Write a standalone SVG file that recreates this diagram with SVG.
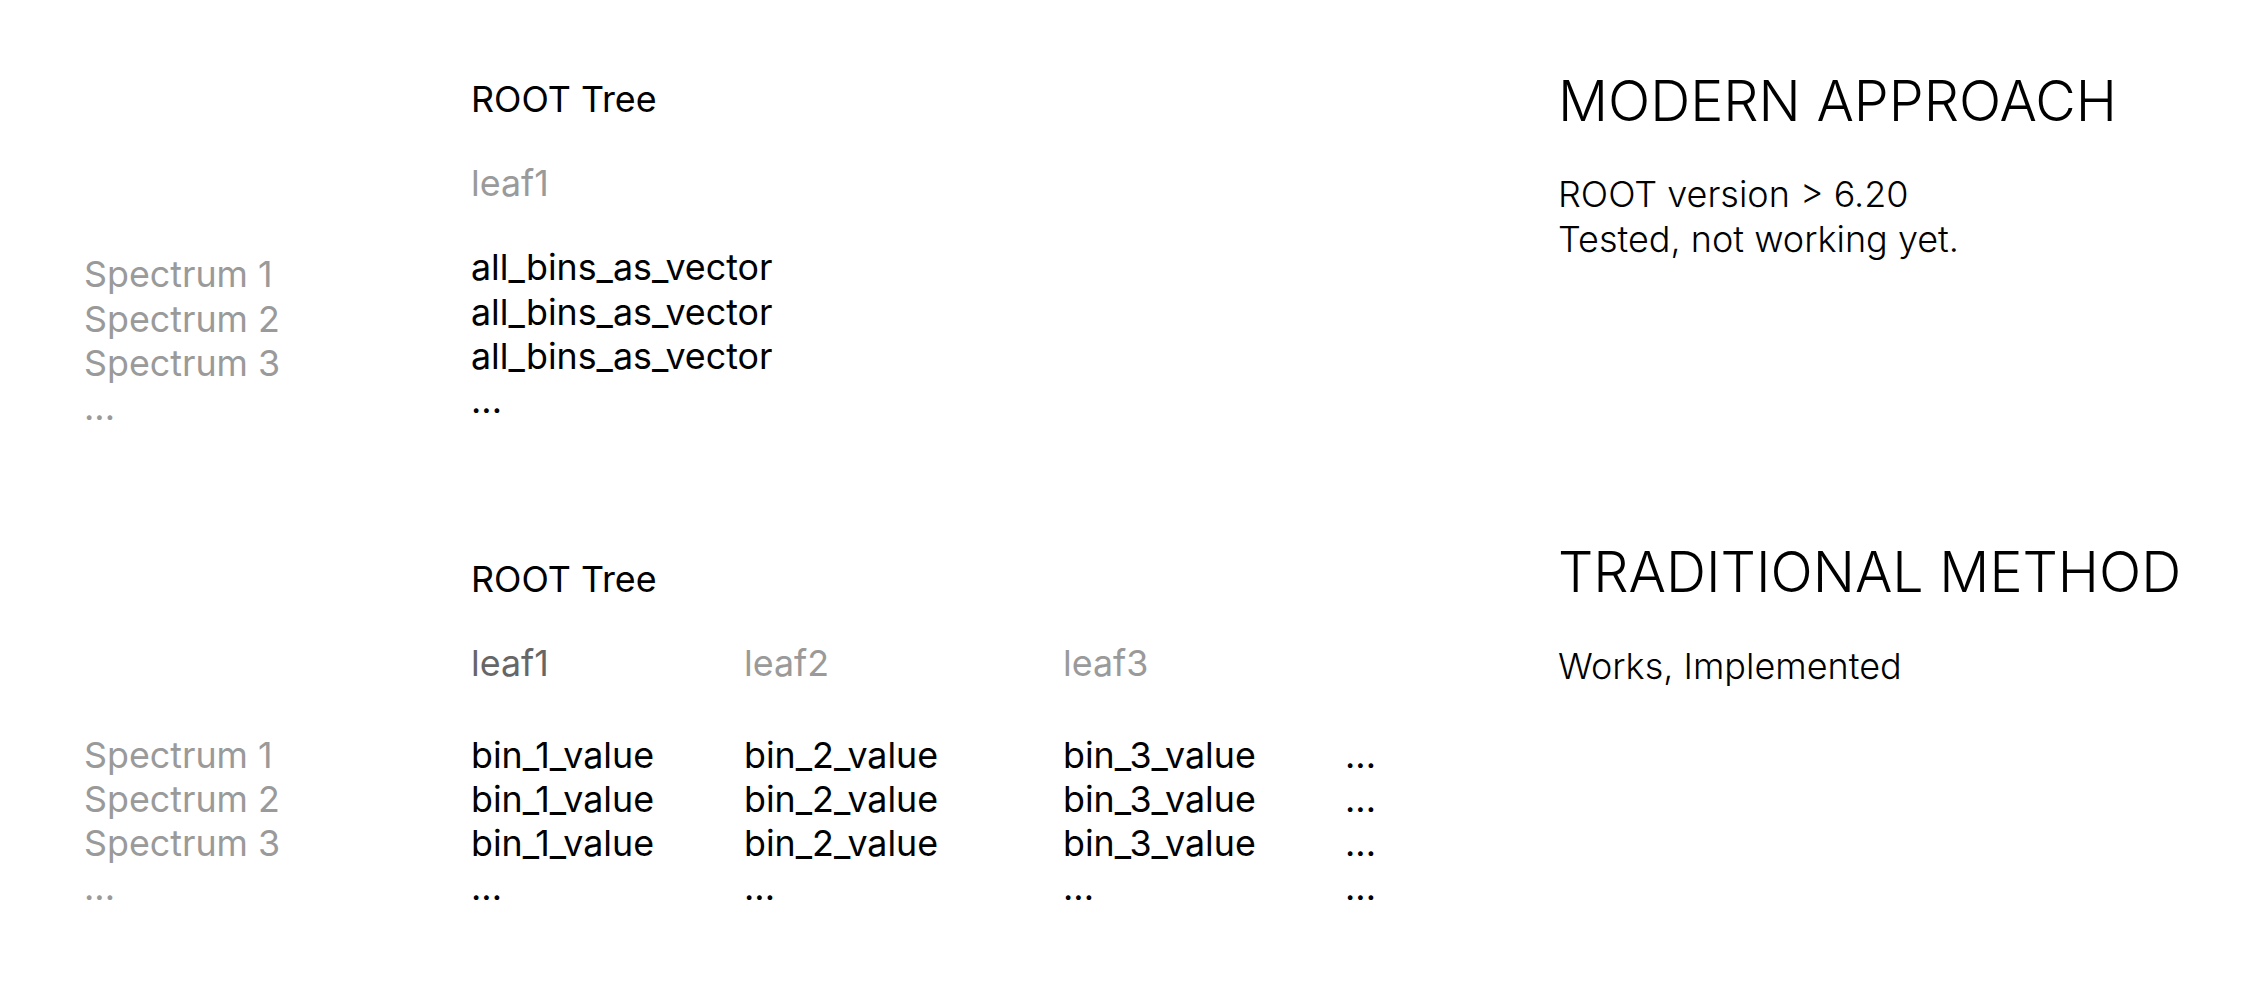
<svg xmlns="http://www.w3.org/2000/svg" width="2260" height="984" viewBox="0 0 2260 984">
  <style>
    text { font-family: Inter, "Noto Sans", "Liberation Sans", sans-serif; }
    .cell { font-size: 35.8px; fill: #000000; }
    .muted { font-size: 35.8px; fill: #9a9a9a; }
    .leaf-active { font-size: 35.8px; fill: #666666; }
    .heading { font-size: 55.6px; font-weight: 300; fill: #000000; }
    .note { font-size: 36px; font-weight: 300; fill: #000000; }
  </style>
  <rect x="0" y="0" width="2260" height="984" fill="#ffffff"/>

  <!-- Modern approach: one leaf holding the full bin vector -->
  <g id="modern-tree">
    <text class="cell" x="471" y="112">ROOT Tree</text>
    <text class="muted" x="471" y="196">leaf1</text>
  </g>
  <g id="modern-rows">
    <text class="muted" x="84" y="287">Spectrum 1</text>
    <text class="muted" x="84" y="331.5">Spectrum 2</text>
    <text class="muted" x="84" y="376">Spectrum 3</text>
    <text class="muted" x="84" y="420">...</text>
  </g>
  <g id="modern-values">
    <text class="cell" x="471" y="280">all_bins_as_vector</text>
    <text class="cell" x="471" y="324.5">all_bins_as_vector</text>
    <text class="cell" x="471" y="369">all_bins_as_vector</text>
    <text class="cell" x="471" y="413">...</text>
  </g>
  <g id="modern-note">
    <text class="heading" x="1558" y="121">MODERN APPROACH</text>
    <text class="note" x="1558" y="207">ROOT version &gt; 6.20</text>
    <text class="note" x="1558" y="252">Tested, not working yet.</text>
  </g>

  <!-- Traditional method: one leaf per bin -->
  <g id="traditional-tree">
    <text class="cell" x="471" y="592">ROOT Tree</text>
    <text class="leaf-active" x="471" y="676">leaf1</text>
    <text class="muted" x="744" y="676">leaf2</text>
    <text class="muted" x="1063" y="676">leaf3</text>
  </g>
  <g id="traditional-rows">
    <text class="muted" x="84" y="767.5">Spectrum 1</text>
    <text class="muted" x="84" y="811.5">Spectrum 2</text>
    <text class="muted" x="84" y="856">Spectrum 3</text>
    <text class="muted" x="84" y="900">...</text>
  </g>
  <g id="traditional-values">
    <text class="cell" x="471" y="767.5">bin_1_value</text>
    <text class="cell" x="471" y="811.5">bin_1_value</text>
    <text class="cell" x="471" y="856">bin_1_value</text>
    <text class="cell" x="471" y="900">...</text>
    <text class="cell" x="744" y="767.5">bin_2_value</text>
    <text class="cell" x="744" y="811.5">bin_2_value</text>
    <text class="cell" x="744" y="856">bin_2_value</text>
    <text class="cell" x="744" y="900">...</text>
    <text class="cell" x="1063" y="767.5">bin_3_value</text>
    <text class="cell" x="1063" y="811.5">bin_3_value</text>
    <text class="cell" x="1063" y="856">bin_3_value</text>
    <text class="cell" x="1063" y="900">...</text>
    <text class="cell" x="1345" y="767.5">...</text>
    <text class="cell" x="1345" y="811.5">...</text>
    <text class="cell" x="1345" y="856">...</text>
    <text class="cell" x="1345" y="900">...</text>
  </g>
  <g id="traditional-note">
    <text class="heading" x="1558" y="592">TRADITIONAL METHOD</text>
    <text class="note" x="1558" y="679">Works, Implemented</text>
  </g>

  <g id="connectors"></g>
</svg>
